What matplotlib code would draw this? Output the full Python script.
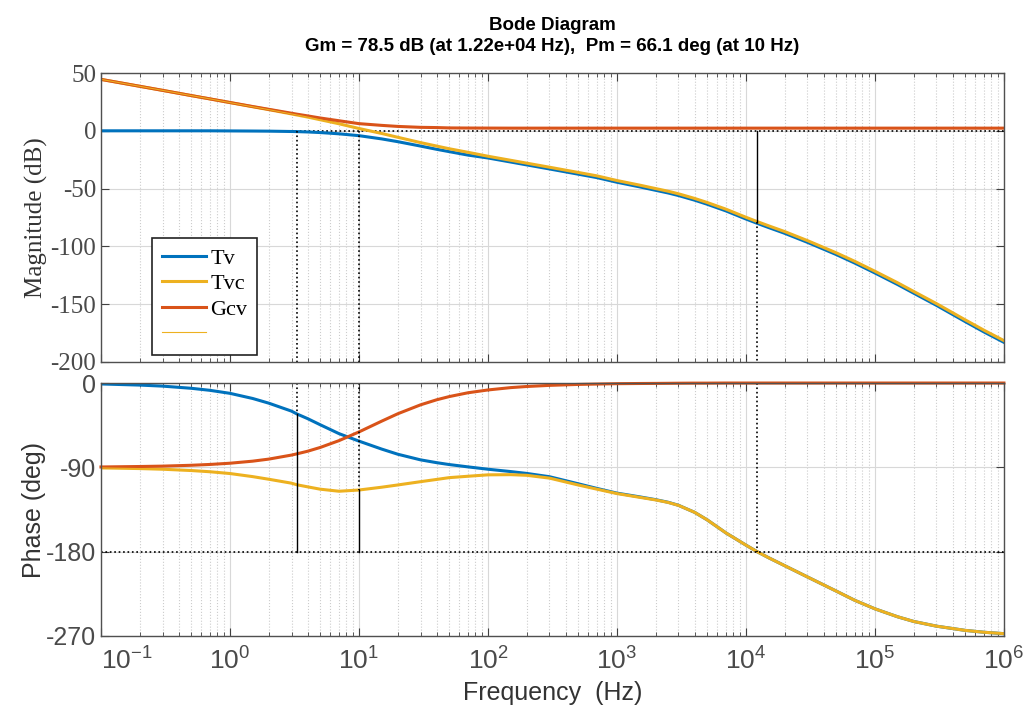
import numpy as np
import matplotlib
matplotlib.use("Agg")
import matplotlib.pyplot as plt
from matplotlib.ticker import LogLocator, NullFormatter, FixedLocator

plt.rcParams['font.family'] = ['Liberation Sans', 'DejaVu Sans']
plt.rcParams['mathtext.fontset'] = 'custom'
plt.rcParams['mathtext.rm'] = 'Liberation Sans'
plt.rcParams['mathtext.it'] = 'Liberation Sans:italic'
plt.rcParams['axes.unicode_minus'] = False

# frequency points (Hz)
freq = [0.1, 0.2, 0.3, 0.5, 0.7, 1, 1.5, 2, 3, 3.3, 4, 5, 7, 10, 15, 20, 30, 40, 50, 70,
        100, 150, 200, 300, 500, 700, 1e3, 1.5e3, 2e3, 2.5e3, 3e3, 4e3, 5e3, 7e3, 1e4,
        1.22e4, 1.5e4, 2e4, 3e4, 5e4, 7e4, 1e5, 1.5e5, 2e5, 3e5, 5e5, 7e5, 1e6]

# magnitude (dB)
mag_tv = [0, 0, 0, 0, 0, -0.1, -0.2, -0.3, -0.6, -0.7, -1.0, -1.5, -2.6, -4.2, -7.0, -9.4,
          -13.2, -16.0, -18.0, -21.0, -23.5, -27.0, -29.5, -33.0, -37.5, -40.5, -44.5,
          -48.5, -51.5, -53.8, -56.0, -60.0, -63.5, -69.3, -76.3, -80.0, -83.7, -88.7,
          -96.5, -107.0, -114.5, -123.0, -133.0, -140.5, -151.0, -165.0, -174.0, -183.0]
mag_tvc = [44.5, 38.5, 35.0, 30.5, 27.6, 24.4, 20.8, 18.3, 14.6, 13.7, 11.9, 9.6, 6.1, 2.0,
           -2.3, -5.6, -10.2, -13.2, -15.5, -18.6, -22.0, -25.5, -28.0, -31.5, -36.0, -39.0,
           -43.0, -47.0, -50.0, -52.3, -54.5, -58.5, -62.0, -67.8, -74.8, -78.5, -82.2,
           -87.2, -95.0, -105.5, -113.0, -121.5, -131.5, -139.0, -149.5, -163.5, -172.5,
           -181.5]
mag_gcv = [44.5, 38.5, 35.0, 30.5, 27.6, 24.5, 21.0, 18.6, 15.2, 14.4, 12.9, 11.1, 8.7, 6.2,
           4.7, 3.8, 3.0, 2.8, 2.5, 2.4, 2.35, 2.3, 2.3, 2.3, 2.3, 2.3, 2.3, 2.3, 2.3, 2.3,
           2.3, 2.3, 2.3, 2.3, 2.3, 2.3, 2.3, 2.3, 2.3, 2.3, 2.3, 2.3, 2.3, 2.3, 2.3, 2.3,
           2.3, 2.3]

# phase (deg)
ph_tv = [-1, -2.2, -3.3, -5.6, -7.8, -11, -16.5, -21.5, -30, -33, -38, -44.5, -54, -62,
         -70.5, -76, -82, -85, -87, -89.5, -92, -94.5, -96.5, -100, -107.5, -112.5, -117.5,
         -121.5, -124.5, -127.3, -130.5, -138, -146, -160, -173, -180, -186.5, -195, -207,
         -222, -232, -241, -249.5, -254.5, -259.5, -264, -266, -267.5]
ph_tvc = [-90.6, -91.3, -92.0, -93.4, -94.7, -96.6, -99.9, -102.7, -106.9, -108.6, -110.8,
          -113.3, -115.5, -114.2, -111.2, -108.8, -105.3, -102.9, -101, -99.5, -98, -97.8,
          -98.5, -101.5, -108.8, -113.3, -118, -122, -124.8, -127.5, -130.6, -138, -146,
          -160, -173, -180, -186.5, -195, -207, -222, -232, -241, -249.5, -254.5, -259.5,
          -264, -266, -267.5]
ph_gcv = [-89.6, -89.1, -88.7, -87.8, -86.9, -85.6, -83.4, -81.2, -76.9, -75.6, -72.8,
          -68.8, -61.5, -52.2, -40.7, -32.8, -23.3, -17.9, -14.5, -10.4, -7.4, -4.9, -3.7,
          -2.5, -1.5, -1.1, -0.7, -0.5, -0.4, -0.3, -0.2, -0.1, -0.1, 0, 0, 0, 0, 0, 0, 0,
          0, 0, 0, 0, 0, 0, 0, 0]

# margin markers
pm_freqs = [3.3, 10]
pm_phases = [-33, -113.9]
gm_freq = 1.22e4
gm_mag = -78.5

xtick_exps = [-1, 0, 1, 2, 3, 4, 5, 6]

c_blue = '#0072BD'
c_yel = '#EDB120'
c_red = '#D95319'
tick_col = '#4a4a4a'

fig = plt.figure(figsize=(10.24, 7.13), dpi=100)
ax1 = fig.add_axes([0.0986, 0.4923, 0.8818, 0.4053])
ax2 = fig.add_axes([0.0986, 0.108, 0.8818, 0.3548])

lw = 2.2
l1, = ax1.plot(freq, mag_tv, color=c_blue, lw=lw)
l2, = ax1.plot(freq, mag_tvc, color=c_yel, lw=lw)
l3, = ax1.plot(freq, mag_gcv, color=c_red, lw=lw)
l4, = ax1.plot(freq, mag_tvc, color=c_yel, lw=0.8)

ax2.plot(freq, ph_tv, color=c_blue, lw=lw)
ax2.plot(freq, ph_tvc, color=c_yel, lw=lw)
ax2.plot(freq, ph_gcv, color=c_red, lw=lw, clip_on=False)
ax2.plot(freq, ph_tvc, color=c_yel, lw=0.8)

# margin lines
ax1.axhline(0, color='k', ls=':', lw=1.2, zorder=1)
for f in pm_freqs:
    ax1.plot([f, f], [0, -200], color='k', ls=':', lw=1.2)
ax1.plot([gm_freq, gm_freq], [0, gm_mag], color='k', lw=1.0)
ax1.plot([gm_freq, gm_freq], [gm_mag, -200], color='k', ls=':', lw=1.2)

ax2.axhline(-180, color='k', ls=':', lw=1.2)
for f, p in zip(pm_freqs, pm_phases):
    ax2.plot([f, f], [0, p], color='k', ls=':', lw=1.2)
    ax2.plot([f, f], [p, -180], color='k', lw=1.0)
ax2.plot([gm_freq, gm_freq], [0, -180], color='k', ls=':', lw=1.2)

for ax in (ax1, ax2):
    ax.set_xscale('log')
    ax.set_xlim(0.1, 1e6)
    ax.set_xticks([10.0 ** e for e in xtick_exps])
    ax.xaxis.set_minor_locator(LogLocator(base=10, subs=np.arange(2, 10), numticks=100))
    ax.xaxis.set_minor_formatter(NullFormatter())
    ax.grid(True, which='major', color='#d8d8d8', lw=0.8, ls='-')
    ax.grid(True, which='minor', axis='x', color='#cccccc', lw=0.8, ls=':')
    ax.set_axisbelow(True)
    ax.tick_params(which='both', direction='in', top=True, right=True, color='#404040')
    ax.tick_params(which='major', length=6)
    ax.tick_params(which='minor', length=3)
    for s in ax.spines.values():
        s.set_color('#505050')
        s.set_linewidth(1.0)

ax1.set_ylim(-200, 50)
ax1.yaxis.set_major_locator(FixedLocator([50, 0, -50, -100, -150, -200]))
ax1.tick_params(labelbottom=False, labelsize=18, labelcolor=tick_col, labelfontfamily='Liberation Serif')
ax1.set_ylabel('Magnitude (dB)', family='Liberation Serif', fontsize=18, color='#333333', labelpad=2)

ax2.set_ylim(-270, 0)
ax2.yaxis.set_major_locator(FixedLocator([0, -90, -180, -270]))
ax2.set_xticklabels([r'$\mathdefault{10^{%d}}$' % e for e in xtick_exps])
ax2.tick_params(axis='y', labelsize=18, labelcolor=tick_col)
ax2.tick_params(axis='x', labelsize=19, labelcolor=tick_col, pad=8)
ax2.get_xticklabels()[0].set_horizontalalignment('left')
ax2.set_ylabel('Phase (deg)', fontsize=18, color='#333333', labelpad=0)
ax2.set_xlabel('Frequency  (Hz)', fontsize=18, color='#333333', labelpad=5)

ax1.set_title('Bode Diagram\nGm = 78.5 dB (at 1.22e+04 Hz),  Pm = 66.1 deg (at 10 Hz)',
              fontsize=13.5, fontweight='bold', linespacing=1.3, pad=16)

leg = ax1.legend([l1, l2, l3, l4], ['Tv', 'Tvc', 'Gcv', ''], loc='lower left',
                 bbox_to_anchor=(0.056, 0.024), borderaxespad=0,
                 prop={'family': 'Liberation Serif', 'size': 16},
                 fancybox=False, framealpha=1, edgecolor='#222222', handlelength=2.0,
                 handletextpad=0.2, labelspacing=0.22, borderpad=0.45)
leg.get_frame().set_linewidth(1.2)

fig.savefig('out.png', dpi=100)
